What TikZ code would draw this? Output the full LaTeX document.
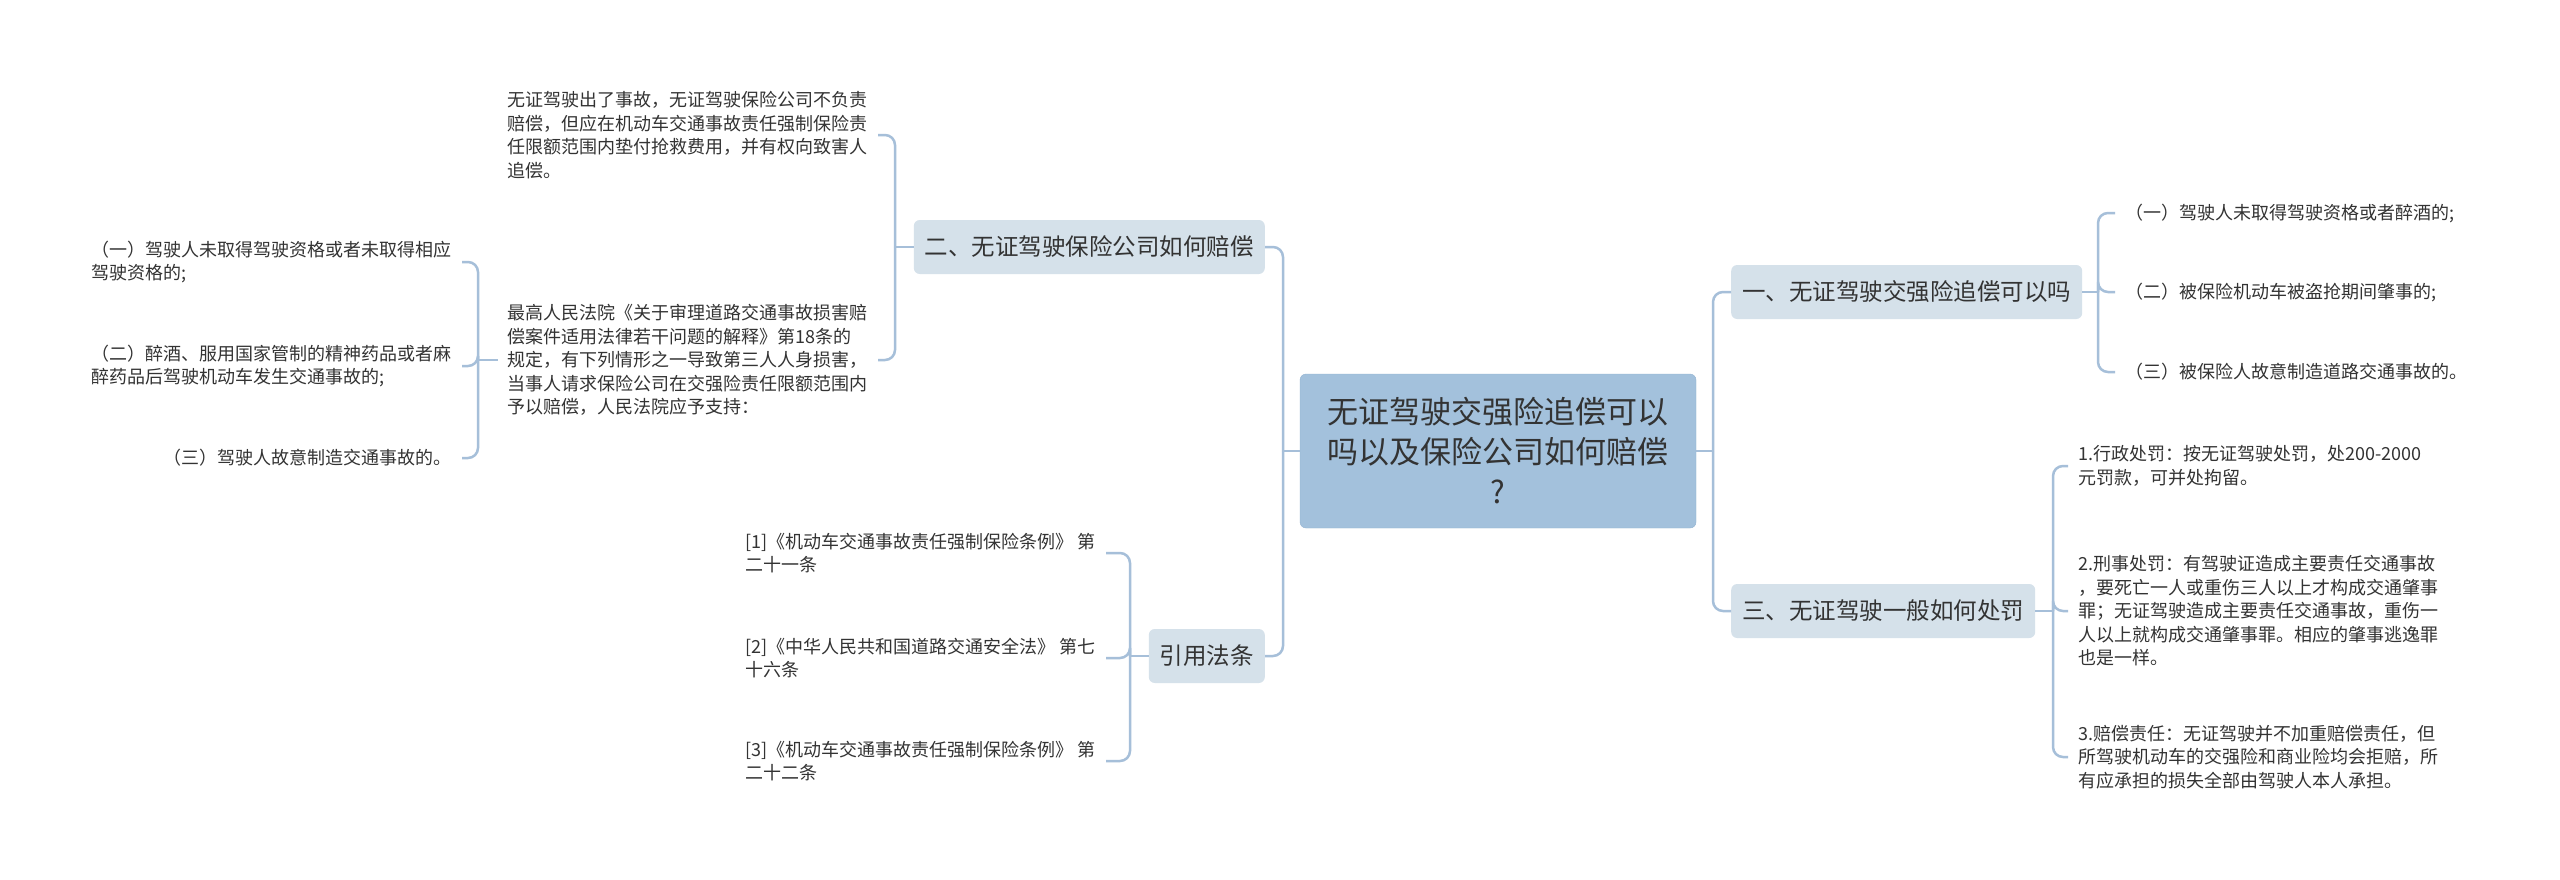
\documentclass[tikz,border=0pt]{standalone}
\usepackage{fontspec}
\setmainfont{Noto Sans CJK SC}
\usetikzlibrary{positioning}

\definecolor{linkblue}{HTML}{A6BFD9}
\definecolor{rootfill}{HTML}{A3C1DC}
\definecolor{rootline}{HTML}{93B3D1}
\definecolor{topicfill}{HTML}{D5E1EA}
\definecolor{inkgray}{HTML}{333333}

\begin{document}
\begin{tikzpicture}[x=1pt,y=-1pt,
  root/.style={draw=rootline, fill=rootfill, rounded corners=6pt,
    minimum width=396pt, minimum height=154pt, align=center,
    text=inkgray, font=\fontsize{31}{40}\selectfont},
  topic/.style={fill=topicfill, rounded corners=6pt, minimum height=54pt,
    inner xsep=11pt, text=inkgray, font=\fontsize{23.5}{28}\selectfont},
  leaf/.style={align=left, inner xsep=10pt, inner ysep=2pt,
    text=inkgray, font=\fontsize{18}{23.5}\selectfont},
  link/.style={draw=linkblue, line width=2.5pt, rounded corners=10pt}]

\useasboundingbox (0,0) rectangle (2560,879);
\fill[white] (0,0) rectangle (2560,879);

% -------- Root --------
\node[root] (root) at (1498,451)
{无证驾驶交强险追偿可以\\吗以及保险公司如何赔偿\\?};

% -------- Topics --------
\node[topic, anchor=west] (law) at (1731,292) {一、无证驾驶交强险追偿可以吗};
\node[topic, anchor=east] (pay) at (1265,247) {二、无证驾驶保险公司如何赔偿};
\node[topic, anchor=west] (fine) at (1731,611) {三、无证驾驶一般如何处罚};
\node[topic, anchor=east] (ref) at (1265,656) {引用法条};

% -------- Leaves of pay --------
\node[leaf, anchor=east] (payA) at (878,135)
{无证驾驶出了事故，无证驾驶保险公司不负责\\赔偿，但应在机动车交通事故责任强制保险责\\任限额范围内垫付抢救费用，并有权向致害人\\追偿。};
\node[leaf, anchor=east] (payB) at (878,360)
{最高人民法院《关于审理道路交通事故损害赔\\偿案件适用法律若干问题的解释》第18条的\\规定，有下列情形之一导致第三人人身损害，\\当事人请求保险公司在交强险责任限额范围内\\予以赔偿，人民法院应予支持：};

\node[leaf, anchor=east] (caseA) at (462,262)
{（一）驾驶人未取得驾驶资格或者未取得相应\\驾驶资格的;};
\node[leaf, anchor=east] (caseB) at (462,366)
{（二）醉酒、服用国家管制的精神药品或者麻\\醉药品后驾驶机动车发生交通事故的;};
\node[leaf, anchor=east] (caseC) at (462,458)
{（三）驾驶人故意制造交通事故的。};

% -------- Leaves of law --------
\node[leaf, anchor=west] (lawA) at (2115,213) {（一）驾驶人未取得驾驶资格或者醉酒的;};
\node[leaf, anchor=west] (lawB) at (2115,292) {（二）被保险机动车被盗抢期间肇事的;};
\node[leaf, anchor=west] (lawC) at (2115,372) {（三）被保险人故意制造道路交通事故的。};

% -------- Leaves of fine --------
\node[leaf, anchor=west] (fineA) at (2068,466)
{1.行政处罚：按无证驾驶处罚，处200-2000\\元罚款，可并处拘留。};
\node[leaf, anchor=west] (fineB) at (2068,611)
{2.刑事处罚：有驾驶证造成主要责任交通事故\\，要死亡一人或重伤三人以上才构成交通肇事\\罪；无证驾驶造成主要责任交通事故，重伤一\\人以上就构成交通肇事罪。相应的肇事逃逸罪\\也是一样。};
\node[leaf, anchor=west] (fineC) at (2068,757)
{3.赔偿责任：无证驾驶并不加重赔偿责任，但\\所驾驶机动车的交强险和商业险均会拒赔，所\\有应承担的损失全部由驾驶人本人承担。};

% -------- Leaves of ref --------
\node[leaf, anchor=east] (refA) at (1106,553)
{[1]《机动车交通事故责任强制保险条例》 第\\二十一条};
\node[leaf, anchor=east] (refB) at (1106,658)
{[2]《中华人民共和国道路交通安全法》 第七\\十六条};
\node[leaf, anchor=east] (refC) at (1106,761)
{[3]《机动车交通事故责任强制保险条例》 第\\二十二条};

% -------- Joints --------
\coordinate (jR) at (1713,451);
\coordinate (jL) at (1283,451);
\coordinate (jPay) at (895,247);
\coordinate (jCase) at (478,360);
\coordinate (jLaw) at (2098,292);
\coordinate (jFine) at (2053,611);
\coordinate (jRef) at (1130,656);

% -------- Links --------
\draw[link] (root.east) -- (jR);
\draw[link] (jR) |- (law.west);
\draw[link] (jR) |- (fine.west);
\draw[link] (root.west) -- (jL);
\draw[link] (jL) |- (pay.east);
\draw[link] (jL) |- (ref.east);

\draw[link] (pay.west) -- (jPay);
\draw[link] (jPay) |- (payA.east);
\draw[link] (jPay) |- (payB.east);
\draw[link] (payB.west) -- (jCase);
\draw[link] (jCase) |- (caseA.east);
\draw[link] (jCase) |- (caseB.east);
\draw[link] (jCase) |- (caseC.east);

\draw[link] (law.east) -- (jLaw);
\draw[link] (jLaw) |- (lawA.west);
\draw[link] (jLaw) |- (lawB.west);
\draw[link] (jLaw) |- (lawC.west);

\draw[link] (fine.east) -- (jFine);
\draw[link] (jFine) |- (fineA.west);
\draw[link] (jFine) |- (fineB.west);
\draw[link] (jFine) |- (fineC.west);

\draw[link] (ref.west) -- (jRef);
\draw[link] (jRef) |- (refA.east);
\draw[link] (jRef) |- (refB.east);
\draw[link] (jRef) |- (refC.east);

\end{tikzpicture}
\end{document}
